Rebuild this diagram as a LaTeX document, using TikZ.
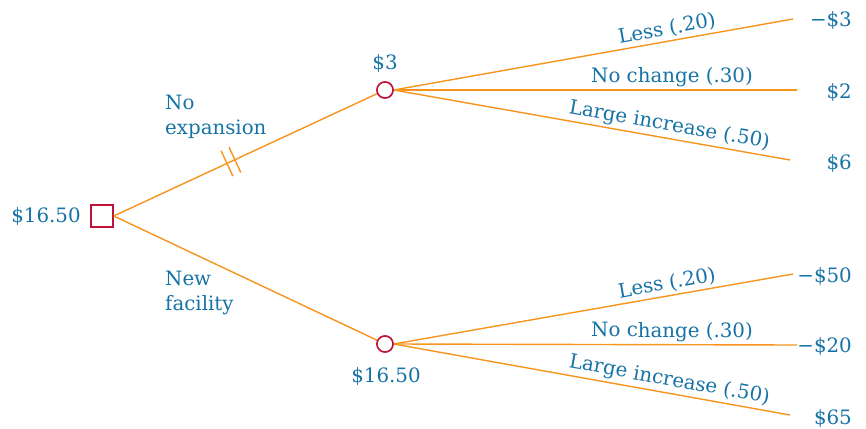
\documentclass[tikz,border=0pt]{standalone}
\usepackage{fontspec}
\setmainfont{DejaVu Serif}
\usetikzlibrary{calc}
\definecolor{branch}{RGB}{247,148,30}
\definecolor{nodecol}{RGB}{190,20,60}
\definecolor{txt}{RGB}{22,115,165}
\tikzset{
  br/.style={draw=branch, line width=1.4pt},
  decision/.style={draw=nodecol, line width=1.5pt, minimum size=22pt, inner sep=0pt, fill=white},
  chance/.style={draw=nodecol, line width=1.5pt, circle, minimum size=16pt, inner sep=0pt, fill=white},
  lbl/.style={text=txt, font=\fontsize{19.8}{25}\selectfont, inner sep=0pt},
  val/.style={lbl, anchor=east},
  brl/.style={lbl, sloped, above, inner sep=2.5pt, pos=0.69}
}
\begin{document}
\begin{tikzpicture}[x=1pt,y=-1pt]
\useasboundingbox (0,0) rectangle (866,428);
% nodes
\node[decision] (sq) at (102,216) {};
\node[chance] (c1) at (385,90) {};
\node[chance] (c2) at (385,344) {};
\node[lbl] (v0) at (46,216) {\$16.50};
\node[lbl] (v1) at (385,63) {\$3};
\node[lbl] (v2) at (386,376) {\$16.50};
\node[lbl, anchor=west, align=left] (ne) at (165,117) {No\\expansion};
\node[lbl, anchor=west, align=left] (nf) at (165,293) {New\\facility};
% end points
\coordinate (e1) at (793,19);
\coordinate (e2) at (797,90);
\coordinate (e3) at (790,160);
\coordinate (e4) at (793,274);
\coordinate (e5) at (797,345);
\coordinate (e6) at (790,415);
\node[val] (o1) at (852,20) {−\$3};
\node[val] (o2) at (852,92) {\$2};
\node[val] (o3) at (852,163) {\$6};
\node[val] (o4) at (852,276) {−\$50};
\node[val] (o5) at (852,346) {−\$20};
\node[val] (o6) at (852,418) {\$65};
% decision branches
\draw[br] (sq.east) -- (c1) coordinate[pos=0.43] (h1) coordinate[pos=0.46] (h2);
\draw[br] (sq.east) -- (c2);
% hash marks
\draw[br] ($(h1)!14pt!90:(c1)$) -- ($(h1)!14pt!-90:(c1)$);
\draw[br] ($(h2)!14pt!90:(c1)$) -- ($(h2)!14pt!-90:(c1)$);
% chance branches
\draw[br] (c1.east) -- node[brl] {Less (.20)} (e1);
\draw[br] (c1.east) -- node[brl] {No change (.30)} (e2);
\draw[br] (c1.east) -- node[brl] {Large increase (.50)} (e3);
\draw[br] (c2.east) -- node[brl] {Less (.20)} (e4);
\draw[br] (c2.east) -- node[brl] {No change (.30)} (e5);
\draw[br] (c2.east) -- node[brl] {Large increase (.50)} (e6);
% redraw nodes on top
\node[chance] at (c1) {};
\node[chance] at (c2) {};
\end{tikzpicture}
\end{document}
